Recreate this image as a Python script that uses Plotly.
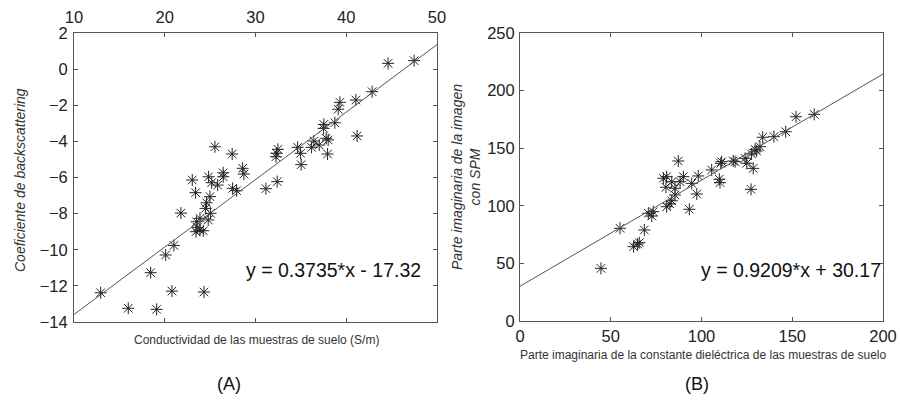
import plotly.graph_objects as go

# ---- Data (A) ----
cond_x = [12.94, 15.98, 19.11, 20.79, 24.32, 18.45, 20.10, 21.01, 21.78, 23.40, 23.03, 25.53,
          27.43, 28.58, 28.72, 26.44, 26.44, 24.83, 25.17, 25.83, 27.48, 27.92, 24.98, 24.61,
          24.50, 25.05, 24.79, 23.88, 23.51, 23.58, 23.88, 23.44, 24.24, 32.39, 31.15, 32.47,
          32.32, 32.25, 34.64, 34.97, 35.03, 36.18, 36.43, 37.02, 37.94, 37.79, 38.01, 37.53,
          37.50, 38.74, 41.20, 39.11, 39.30, 41.06, 42.85, 44.61, 47.48]
back_y = [-12.38, -13.24, -13.30, -12.29, -12.34, -11.27, -10.29, -9.76, -7.97, -6.84, -6.14, -4.30,
          -4.70, -5.49, -5.81, -5.74, -5.96, -5.96, -6.29, -6.42, -6.60, -6.73, -7.06, -7.40,
          -7.71, -7.98, -8.35, -8.26, -8.45, -8.76, -8.91, -9.00, -8.95, -6.23, -6.62, -4.44,
          -4.66, -4.85, -4.33, -4.66, -5.29, -4.33, -3.98, -4.20, -4.70, -3.83, -3.92, -3.06,
          -3.28, -2.97, -3.70, -2.22, -1.84, -1.71, -1.25, 0.32, 0.47]
fit_a = (0.3735, -17.32)

# ---- Data (B) ----
diel_x = [44.6, 55.1, 62.6, 64.8, 65.7, 68.5, 70.7, 72.6, 73.4, 80.8, 82.6, 83.6, 85.4, 93.3,
          79.0, 80.8, 87.2, 90.0, 98.2, 85.4, 83.6, 88.2, 94.6, 97.4, 80.4, 105.6, 110.6, 109.8,
          110.2, 118.5, 124.0, 127.6, 129.5, 132.2, 128.5, 127.3, 133.7, 139.9, 146.4, 152.1,
          162.1, 124.9, 111.1, 117.5, 130.4]
spm_y = [45.7, 80.5, 64.5, 66.8, 68.0, 79.0, 93.5, 91.1, 94.9, 99.2, 101.6, 104.4, 109.4, 97.0,
         123.9, 125.3, 138.9, 125.3, 125.9, 115.2, 120.9, 120.9, 119.5, 110.2, 116.1, 131.1, 136.9, 123.0,
         120.1, 138.3, 141.2, 145.0, 149.0, 151.3, 132.5, 114.3, 159.5, 160.0, 164.3, 177.3,
         179.4, 136.9, 138.3, 138.9, 147.6]
fit_b = (0.9209, 30.17)

xa_range = [10, 50]
ya_range = [-14, 2]
xb_range = [0, 200]
yb_range = [0, 250]

W, H = 900, 401
FONT = "Liberation Sans"


def px(x):
    return x / W


def py(y):
    return 1 - y / H


marker = dict(symbol="asterisk-open", size=10, color="#222", line=dict(width=1, color="#222"))
line_style = dict(color="#555", width=1)

fig = go.Figure()
fig.add_trace(go.Scatter(x=cond_x, y=back_y, mode="markers", marker=marker, xaxis="x", yaxis="y",
                         showlegend=False))
fig.add_trace(go.Scatter(x=xa_range, y=[fit_a[0] * v + fit_a[1] for v in xa_range], mode="lines",
                         line=line_style, xaxis="x", yaxis="y", showlegend=False))
fig.add_trace(go.Scatter(x=diel_x, y=spm_y, mode="markers", marker=marker, xaxis="x2", yaxis="y2",
                         showlegend=False))
fig.add_trace(go.Scatter(x=xb_range, y=[fit_b[0] * v + fit_b[1] for v in xb_range], mode="lines",
                         line=line_style, xaxis="x2", yaxis="y2", showlegend=False))

axis_common = dict(showline=True, linecolor="#555", linewidth=1, mirror="ticks", ticks="inside",
                   ticklen=4, tickcolor="#555", showgrid=False, zeroline=False, automargin=False,
                   tickfont=dict(family=FONT, size=16.5, color="#222"))

fig.update_layout(
    width=W, height=H, margin=dict(l=0, r=0, t=0, b=0, autoexpand=False),
    paper_bgcolor="white", plot_bgcolor="white",
    xaxis=dict(domain=[px(74), px(437)], range=xa_range, side="top", tickvals=[10, 20, 30, 40, 50],
               anchor="y", ticklabelstandoff=2, **axis_common),
    yaxis=dict(domain=[py(322), py(33)], range=ya_range, dtick=2, anchor="x",
               ticklabelstandoff=2, **axis_common),
    xaxis2=dict(domain=[px(520), px(883)], range=xb_range, dtick=50, anchor="y2",
                ticklabelstandoff=0, **axis_common),
    yaxis2=dict(domain=[py(321), py(33)], range=yb_range, dtick=50, anchor="x2",
                ticklabelstandoff=1, **axis_common),
)

ann = []
ann.append(dict(text="Conductividad de las muestras de suelo (S/m)", x=px(256), y=py(340),
                font=dict(family=FONT, size=12, color="#333")))
ann.append(dict(text="<i>Coeficiente de backscattering</i>", x=px(20), y=py(180), textangle=-90,
                font=dict(family=FONT, size=14, color="#333")))
ann.append(dict(text="y = 0.3735*x - 17.32", x=px(333), y=py(270),
                font=dict(family=FONT, size=19.5, color="#111")))
ann.append(dict(text="(A)", x=px(229), y=py(384), font=dict(family=FONT, size=18, color="#111")))
ann.append(dict(text="Parte imaginaria de la constante dieléctrica de las muestras de suelo",
                x=px(703), y=py(355), font=dict(family=FONT, size=12, color="#333")))
ann.append(dict(text="<i>Parte imaginaria de la imagen<br>con SPM</i>", x=px(466), y=py(177),
                textangle=-90, font=dict(family=FONT, size=14, color="#333")))
ann.append(dict(text="y = 0.9209*x + 30.17", x=px(791), y=py(270),
                font=dict(family=FONT, size=19.5, color="#111")))
ann.append(dict(text="(B)", x=px(697), y=py(384), font=dict(family=FONT, size=18, color="#111")))

for a in ann:
    a.update(xref="paper", yref="paper", showarrow=False, xanchor="center", yanchor="middle")
fig.update_layout(annotations=ann)

fig.write_html("out.html")
